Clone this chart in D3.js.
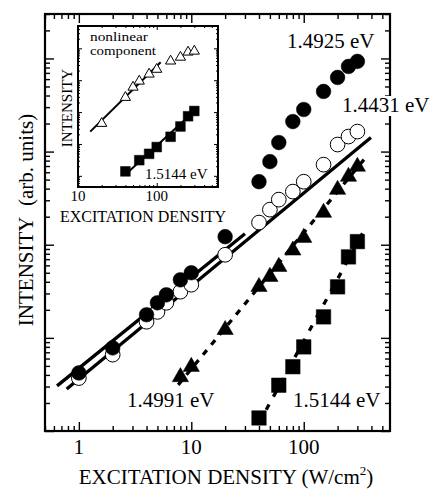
<!DOCTYPE html>
<html>
<head>
<meta charset="utf-8">
<script src="https://cdn.jsdelivr.net/npm/d3@7"></script>
<style>
	body { margin: 0; background: #fff; }
	svg text { font-family: "Liberation Serif", "Times New Roman", serif; fill: #000; }
</style>
</head>
<body>
<svg id="chart" width="432" height="489"></svg>
<script>
// excitation density (W/cm2) and PL intensity (arb. units)
var xCircles = [1, 2, 4, 5, 6, 8, 10, 20, 40, 50, 60, 80, 100, 150, 200, 250, 300];
var yFilledCircles = [4.2, 7.8, 17.7, 23.8, 29, 42, 50, 122, 475, 780, 1250, 2100, 2830, 4420, 6250, 8200, 9290];
var yOpenCircles = [3.7, 6.6, 14.9, 19, 23.8, 31.3, 37.2, 78, 173, 238, 305, 372, 475, 724, 1190, 1450, 1640];
var xTriangles = [8, 10, 20, 40, 50, 60, 80, 100, 150, 200, 250, 300];
var yTriangles = [3.8, 4.9, 12.2, 35.3, 45.3, 58, 87, 119, 221, 390, 538, 690];
var xSquares = [40, 60, 80, 100, 150, 200, 250, 300];
var ySquares = [1.38, 3.1, 4.9, 8.0, 16.8, 35.3, 74, 108];

// inset : nonlinear component
var xInsetTriangles = [20, 40, 50, 60, 80, 100, 150, 200, 250, 300];
var yInsetTriangles = [44, 288, 603, 933, 1550, 2190, 3980, 5250, 7590, 8130];

// fitted lines (start / end points)
var fitFilled = [[0.64, 3.05], [30, 131]];
var fitOpen = [[0.78, 2.83], [396, 1416]];
var fitTriangles = [[7.65, 3.13], [343, 820]];
var fitSquares = [[40, 1.22], [360, 157]];
var fitInsetTriangles = [[14.3, 24.4], [112, 3670]];
var fitInsetSquares = [[43.8, 1.34], [336, 140]];

var xTickLabels = [1, 10, 100];
var insetTickLabels = [10, 100];

var svg = d3.select("#chart");

function zip(xs, ys) {
	return xs.map(function(d, i) { return [d, ys[i]]; });
}

// ticks on the four sides, pointing inward
function frameTicks(g, x, y, w, h, big, small) {
	var xMinor = x.ticks().filter(function(d) { return Math.abs(Math.log10(d) % 1) > 1e-6; });
	var xMajor = x.ticks().filter(function(d) { return Math.abs(Math.log10(d) % 1) < 1e-6; });
	var yMinor = y.ticks().filter(function(d) { return Math.abs(Math.log10(d) % 1) > 1e-6; });
	var yMajor = y.ticks().filter(function(d) { return Math.abs(Math.log10(d) % 1) < 1e-6; });

	[[xMajor, big], [xMinor, small]].forEach(function(t) {
		g.append("g").attr("transform", "translate(0," + h + ")")
			.call(d3.axisBottom(x).tickValues(t[0]).tickSize(-t[1]).tickFormat(""));
		g.append("g")
			.call(d3.axisTop(x).tickValues(t[0]).tickSize(-t[1]).tickFormat(""));
	});
	[[yMajor, big], [yMinor, small]].forEach(function(t) {
		g.append("g")
			.call(d3.axisLeft(y).tickValues(t[0]).tickSize(-t[1]).tickFormat(""));
		g.append("g").attr("transform", "translate(" + w + ",0)")
			.call(d3.axisRight(y).tickValues(t[0]).tickSize(-t[1]).tickFormat(""));
	});
	g.selectAll(".domain").remove();
	g.selectAll(".tick line").attr("stroke", "#000").attr("stroke-width", 1.4);
}

function drawFit(g, x, y, pts, width, dash) {
	g.append("path")
		.datum(pts)
		.attr("fill", "none")
		.attr("stroke", "#000")
		.attr("stroke-width", width)
		.attr("stroke-dasharray", dash)
		.attr("d", d3.line().x(function(d) { return x(d[0]); }).y(function(d) { return y(d[1]); }));
}

function drawMarkers(g, x, y, pts, type, size, open) {
	var sym = d3.symbol().type(type).size(size);
	g.selectAll(null)
		.data(pts)
		.enter().append("path")
		.attr("d", sym)
		.attr("transform", function(d) { return "translate(" + x(d[0]) + "," + y(d[1]) + ")"; })
		.attr("fill", open ? "#fff" : "#000")
		.attr("stroke", "#000")
		.attr("stroke-width", open ? 1 : 0.5);
}

/*** main plot ***/
var margin = {top: 14, left: 45},
	width = 345,
	height = 417;

var x = d3.scaleLog().domain([0.5, 585]).range([0, width]);
var y = d3.scaleLog().domain([1, 30000]).range([height, 0]);

var g = svg.append("g").attr("transform", "translate(" + margin.left + "," + margin.top + ")");

frameTicks(g, x, y, width, height, 9, 5);

drawFit(g, x, y, fitFilled, 3.3, null);
drawFit(g, x, y, fitOpen, 3.3, null);
drawFit(g, x, y, fitTriangles, 3.3, "6,7");
drawFit(g, x, y, fitSquares, 3.3, "6,9");

drawMarkers(g, x, y, zip(xCircles, yOpenCircles), d3.symbolCircle, 170, true);
drawMarkers(g, x, y, zip(xCircles, yFilledCircles), d3.symbolCircle, 170, false);
drawMarkers(g, x, y, zip(xTriangles, yTriangles), d3.symbolTriangle, 115, false);
drawMarkers(g, x, y, zip(xSquares, ySquares), d3.symbolSquare, 210, false);

g.append("rect")
	.attr("width", width).attr("height", height)
	.attr("fill", "none").attr("stroke", "#000").attr("stroke-width", 2.2);

// x tick labels
g.selectAll(".xlab")
	.data(xTickLabels)
	.enter().append("text")
	.attr("x", function(d) { return x(d); })
	.attr("y", height + 23)
	.attr("text-anchor", "middle")
	.style("font-size", "21px")
	.text(function(d) { return d; });

// series labels
function seriesLabel(txt, px, py, bg) {
	var t = svg.append("text")
		.attr("x", px).attr("y", py)
		.style("font-size", "21px")
		.text(txt);
	if (bg) {
		var b = t.node().getBBox();
		svg.insert("rect", function() { return t.node(); })
			.attr("x", b.x - 1).attr("y", b.y + 3)
			.attr("width", b.width + 2).attr("height", b.height - 4)
			.attr("fill", "#fff");
	}
}
seriesLabel("1.4925 eV", 287, 48, false);
seriesLabel("1.4431 eV", 342, 112, true);
seriesLabel("1.4991 eV", 127, 407, false);
seriesLabel("1.5144 eV", 293, 407, false);

// axis titles
var xt = svg.append("text")
	.attr("x", 226).attr("y", 484)
	.attr("text-anchor", "middle")
	.style("font-size", "21px")
	.text("EXCITATION DENSITY (W/cm");
xt.append("tspan").attr("dy", -9).style("font-size", "13px").text("2");
xt.append("tspan").attr("dy", 9).text(")");

svg.append("text")
	.attr("transform", "translate(33,220) rotate(-90)")
	.attr("text-anchor", "middle")
	.style("font-size", "21px")
	.text("INTENSITY\u00a0 (arb. units)");

/*** inset ***/
var inset = {top: 26, left: 78, width: 140, height: 161};
var xi = d3.scaleLog().domain([10, 600]).range([0, inset.width]);
var yi = d3.scaleLog().domain([Math.pow(10, -0.35), Math.pow(10, 4.7)]).range([inset.height, 0]);

var gi = svg.append("g").attr("transform", "translate(" + inset.left + "," + inset.top + ")");
gi.append("rect")
	.attr("width", inset.width).attr("height", inset.height)
	.attr("fill", "#fff");

frameTicks(gi, xi, yi, inset.width, inset.height, 4, 2);
gi.selectAll(".tick line").attr("stroke-width", 1);

drawFit(gi, xi, yi, fitInsetTriangles, 2, null);
drawFit(gi, xi, yi, fitInsetSquares, 2, null);
drawMarkers(gi, xi, yi, zip(xInsetTriangles, yInsetTriangles), d3.symbolTriangle, 45, true);
drawMarkers(gi, xi, yi, zip(xSquares, ySquares), d3.symbolSquare, 95, false);

gi.append("rect")
	.attr("width", inset.width).attr("height", inset.height)
	.attr("fill", "none").attr("stroke", "#000").attr("stroke-width", 2);

gi.selectAll(".ilab")
	.data(insetTickLabels)
	.enter().append("text")
	.attr("x", function(d) { return xi(d); })
	.attr("y", inset.height + 14)
	.attr("text-anchor", "middle")
	.style("font-size", "15px")
	.text(function(d) { return d; });

gi.append("text").attr("x", 12).attr("y", 15).style("font-size", "12px")
	.attr("textLength", 58).attr("lengthAdjust", "spacingAndGlyphs").text("nonlinear");
gi.append("text").attr("x", 12).attr("y", 29).style("font-size", "12px")
	.attr("textLength", 66).attr("lengthAdjust", "spacingAndGlyphs").text("component");
gi.append("text").attr("x", 67).attr("y", 153).style("font-size", "15px").text("1.5144 eV");

svg.append("text")
	.attr("transform", "translate(72,108) rotate(-90)")
	.attr("text-anchor", "middle")
	.style("font-size", "15px")
	.text("INTENSITY");

svg.append("text")
	.attr("x", 143).attr("y", 222)
	.attr("text-anchor", "middle")
	.style("font-size", "16px")
	.text("EXCITATION DENSITY");
</script>
</body>
</html>
